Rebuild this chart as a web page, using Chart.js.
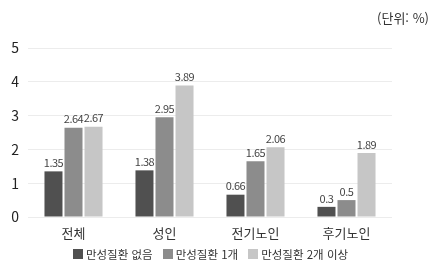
<!DOCTYPE html>
<html lang="ko">
<head>
<meta charset="utf-8">
<script src="https://cdn.jsdelivr.net/npm/chart.js@4"></script>
<style>
  html, body { margin: 0; padding: 0; background: #fff; }
  #wrap { position: relative; width: 439px; height: 279px; font-family: "Noto Sans CJK KR", "Noto Sans", sans-serif; }
  #chart { display: block; }
  #unit { position: absolute; right: 10px; top: 8px; font-size: 13px; color: #333; }
  #legend { position: absolute; left: -9px; width: 439px; top: 246px; display: flex; justify-content: center; font-size: 11.5px; color: #333; }
  #legend span.item { display: flex; align-items: center; margin: 0 5px; }
  #legend span.box { width: 10px; height: 10px; margin-right: 3px; display: inline-block; }
</style>
</head>
<body>
<div id="wrap">
  <canvas id="chart" width="439" height="279"></canvas>
  <div id="unit">(단위: %)</div>
  <div id="legend"></div>
</div>
<script>
// 데이터
const categories = ['전체', '성인', '전기노인', '후기노인'];
const seriesNames = ['만성질환 없음', '만성질환 1개', '만성질환 2개 이상'];
const noneValues = [1.35, 1.38, 0.66, 0.3];
const oneValues = [2.64, 2.95, 1.65, 0.5];
const twoPlusValues = [2.67, 3.89, 2.06, 1.89];
const yTicks = [0, 1, 2, 3, 4, 5];

const colors = ['#505050', '#8c8c8c', '#c6c6c6'];
const fontFamily = '"Noto Sans CJK KR", "Noto Sans", sans-serif';

// 막대 위 값 표시
const valueLabels = {
  id: 'valueLabels',
  afterDatasetsDraw(chart) {
    const ctx = chart.ctx;
    ctx.save();
    ctx.font = '11px ' + fontFamily;
    ctx.fillStyle = '#444';
    ctx.textAlign = 'center';
    ctx.textBaseline = 'bottom';
    if ('letterSpacing' in ctx) ctx.letterSpacing = '-0.5px';
    chart.data.datasets.forEach((ds, i) => {
      const meta = chart.getDatasetMeta(i);
      meta.data.forEach((bar, j) => {
        ctx.fillText(String(ds.data[j]), bar.x, bar.y - 3);
      });
    });
    ctx.restore();
  }
};

const chart = new Chart(document.getElementById('chart').getContext('2d'), {
  type: 'bar',
  data: {
    labels: categories,
    datasets: [
      { label: seriesNames[0], data: noneValues, backgroundColor: colors[0] },
      { label: seriesNames[1], data: oneValues, backgroundColor: colors[1] },
      { label: seriesNames[2], data: twoPlusValues, backgroundColor: colors[2] }
    ]
  },
  options: {
    responsive: false,
    animation: false,
    layout: { padding: { top: 48, right: 47, bottom: 38, left: 0 } },
    datasets: { bar: { categoryPercentage: 0.66, barPercentage: 0.9 } },
    plugins: {
      legend: { display: false },
      tooltip: { enabled: false }
    },
    scales: {
      x: {
        afterFit(scale) { scale.height = 24; },
        grid: { display: false, drawTicks: false, tickLength: 0 },
        border: { display: false },
        ticks: { color: '#333', font: { family: fontFamily, size: 13 }, padding: 8 }
      },
      y: {
        min: 0,
        max: 5,
        afterBuildTicks(scale) { scale.ticks = yTicks.map(v => ({ value: v })); },
        afterFit(scale) { scale.width = 28; },
        grid: { color: '#ececec', drawTicks: false },
        border: { display: false },
        ticks: { color: '#222', font: { family: fontFamily, size: 14 }, padding: 9 }
      }
    }
  },
  plugins: [valueLabels]
});

// 범례
const legend = document.getElementById('legend');
seriesNames.forEach((name, i) => {
  const item = document.createElement('span');
  item.className = 'item';
  const box = document.createElement('span');
  box.className = 'box';
  box.style.background = colors[i];
  item.appendChild(box);
  item.appendChild(document.createTextNode(name));
  legend.appendChild(item);
});
</script>
</body>
</html>
